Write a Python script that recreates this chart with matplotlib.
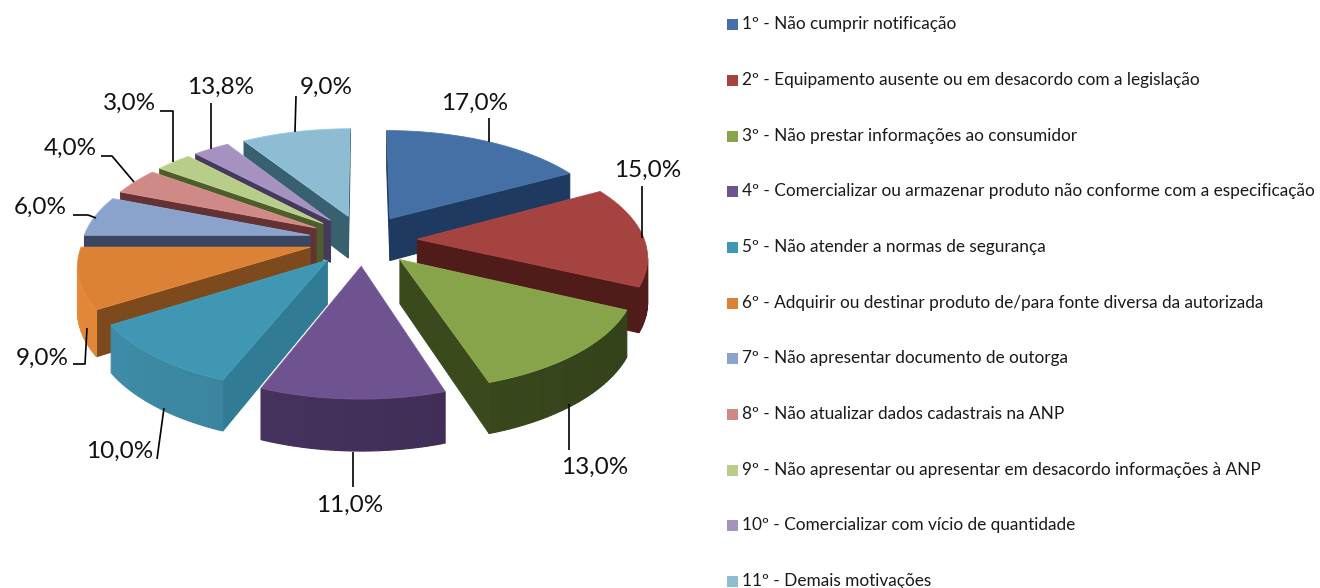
"""Exploded 3D-style pie of ANP infraction motives, with a legend on the right."""
import matplotlib
matplotlib.use("Agg")
import matplotlib.pyplot as plt
from matplotlib.colors import to_rgb
import numpy as np

plt.rcParams["font.family"] = ["Lato", "DejaVu Sans"]

MOTIVES = [
    "1º - Não cumprir notificação",
    "2º - Equipamento ausente ou em desacordo com a legislação",
    "3º - Não prestar informações ao consumidor",
    "4º - Comercializar ou armazenar produto não conforme com a especificação",
    "5º - Não atender a normas de segurança",
    "6º - Adquirir ou destinar produto de/para fonte diversa da autorizada",
    "7º - Não apresentar documento de outorga",
    "8º - Não atualizar dados cadastrais na ANP",
    "9º - Não apresentar ou apresentar em desacordo informações à ANP",
    "10º - Comercializar com vício de quantidade",
    "11º - Demais motivações",
]
VALUES = [17.0, 15.0, 13.0, 11.0, 10.0, 9.0, 6.0, 4.0, 3.0, 3.0, 9.0]
VALUE_LABELS = ["17,0%", "15,0%", "13,0%", "11,0%", "10,0%", "9,0%",
                "6,0%", "4,0%", "3,0%", "13,8%", "9,0%"]

TOP_COLORS = ["#4470a5", "#a54341", "#87a44b", "#6f5290", "#3f97b3", "#dc8237",
              "#8aa3cc", "#cf8a88", "#b8cd8a", "#a592c0", "#8ebdd3"]
SIDE_COLORS = ["#1f3a60", "#4f1c1a", "#3a4a1d", "#3a2c50", "#317c94", "#7c4a1c",
               "#3a4560", "#643232", "#4d5e2c", "#463a5c", "#38606e"]
RIM_COLORS = ["#1f3a60", "#5c211e", "#3a4a1d", "#42305a", "#387f98", "#cc7a33",
              "#3a4560", "#643232", "#4d5e2c", "#463a5c", "#38606e"]

# layout, in pixels of the 1320x588 picture
CX, CY = 363, 240
RX, RY = 227, 106
EXPLODE = 0.24
PERSP = 0.14
DEPTH = 43

LABEL_POS = [(475, 103), (648, 170), (595, 467), (350, 505), (120, 451), (42, 358),
             (40, 207), (70, 148), (130, 103), (221, 87), (326, 87)]
LEADERS = [
    [(489, 118), (489, 142)],
    [(642, 186), (642, 238)],
    [(569, 404), (569, 450)],
    [(353, 452), (353, 487)],
    [(164, 408), (157, 459)],
    [(73, 364), (85, 364), (87, 328)],
    [(73, 215), (88, 215), (96, 218)],
    [(101, 156), (112, 156), (134, 182)],
    [(160, 111), (173, 111), (173, 162)],
    [(211, 103), (211, 149)],
    [(296, 96), (295, 132)],
]
LEGEND_Y = [24, 80, 136, 191, 247, 303, 358, 414, 470, 525, 581]


def project(u, v):
    f = 1 / (1 + PERSP * v)
    return CX + RX * u * f, CY - RY * v * f, DEPTH * f


def shoelace(pts):
    x, y = np.array(pts).T
    return 0.5 * np.sum(x * np.roll(y, -1) - np.roll(x, -1) * y)


def shade(color, k):
    return tuple(min(1, c * k) for c in to_rgb(color))


def draw_slice(ax, start, stop, top, side, rim):
    mid = (start + stop) / 2
    du, dv = EXPLODE * np.sin(mid), EXPLODE * np.cos(mid)
    phis = np.linspace(start, stop, 40)
    ring = [(du, dv)] + [(du + np.sin(p), dv + np.cos(p)) for p in phis]
    pts = [project(u, v) for u, v in ring]
    xy = [(x, y) for x, y, _ in pts]
    sign = np.sign(shoelace(xy))

    for i, (x0, y0, d0) in enumerate(pts):
        x1, y1, d1 = pts[(i + 1) % len(pts)]
        quad = [(x0, y0), (x1, y1), (x1, y1 + d1), (x0, y0 + d0)]
        if np.sign(shoelace(quad)) == sign:
            continue
        if i == 0 or i == len(pts) - 1:
            col = side
        else:
            # rim gets brighter towards the left of the picture
            col = shade(rim, 1 - 0.12 * np.sin(phis[i - 1]))
        ax.fill(*zip(*quad), facecolor=col, edgecolor=col, lw=0.8, zorder=2)
    ax.fill(*zip(*xy), facecolor=top, edgecolor=shade(top, 1.08), lw=0.6, zorder=2)


def main():
    fig = plt.figure(figsize=(13.2, 5.88), dpi=100)
    ax = fig.add_axes([0, 0, 1, 1])
    ax.set_xlim(0, 1320)
    ax.set_ylim(588, 0)
    ax.axis("off")

    edges = 2 * np.pi * np.cumsum([0] + VALUES) / sum(VALUES)
    mids = (edges[:-1] + edges[1:]) / 2
    # far slices first so the nearer ones paint over them
    for i in np.argsort(-np.cos(mids)):
        draw_slice(ax, edges[i], edges[i + 1], TOP_COLORS[i], SIDE_COLORS[i], RIM_COLORS[i])

    for line in LEADERS:
        ax.plot(*zip(*line), color="black", lw=1.2, solid_capstyle="butt", zorder=3)
    for (x, y), txt in zip(LABEL_POS, VALUE_LABELS):
        ax.text(x, y, txt, ha="center", va="center", fontsize=17.5, color="#111111", zorder=4)

    for y, txt, col in zip(LEGEND_Y, MOTIVES, TOP_COLORS):
        ax.fill([727, 738, 738, 727], [y - 5.5, y - 5.5, y + 5.5, y + 5.5], color=col, lw=0)
        ax.text(742, y, txt, ha="left", va="center", fontsize=12.4, color="#1a1a1a")

    fig.savefig("out.png", dpi=100)
    plt.close(fig)


if __name__ == "__main__":
    main()
